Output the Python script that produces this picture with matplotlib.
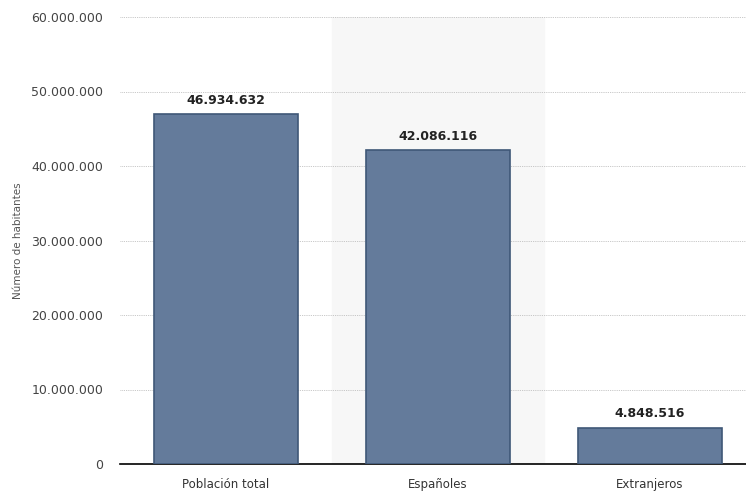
import matplotlib.pyplot as plt
from matplotlib.ticker import FuncFormatter

categorias = ["Población total", "Españoles", "Extranjeros"]
habitantes = [46934632, 42086116, 4848516]
yticks = [0, 10000000, 20000000, 30000000, 40000000, 50000000, 60000000]


def miles(v, pos=None):
    return f"{int(v):,}".replace(",", ".")


fig = plt.figure(figsize=(7.46, 4.92), dpi=100)
ax = fig.add_axes([120 / 746, 28 / 492, 626 / 746, 447 / 492])

x = range(len(categorias))
ax.axvspan(0.5, 1.5, color="#f7f7f7", zorder=0)
ax.bar(x, habitantes, width=0.68, color="#647b9b", edgecolor="#3f5877",
       linewidth=1.2, zorder=3)

for i, v in zip(x, habitantes):
    ax.text(i, v + 1000000, miles(v), ha="center", va="bottom",
            fontsize=9, fontweight="bold", color="#222222", zorder=4)

ax.set_xlim(-0.5, 2.453)
ax.set_ylim(0, 60000000)
ax.set_yticks(yticks)
ax.yaxis.set_major_formatter(FuncFormatter(miles))
ax.set_xticks(list(x))
ax.set_xticklabels(categorias)
ax.grid(axis="y", linestyle=(0, (1, 1.2)), color="#b5b5b5", linewidth=0.6, zorder=1)
ax.set_axisbelow(True)

for s in ["top", "right", "left"]:
    ax.spines[s].set_visible(False)
ax.spines["bottom"].set_color("#000000")
ax.spines["bottom"].set_linewidth(1.2)
ax.tick_params(axis="y", length=0, pad=12, labelsize=9, labelcolor="#444444")
ax.tick_params(axis="x", length=0, pad=10, labelsize=8.5, labelcolor="#333333")

ax.set_ylabel("Número de habitantes", fontsize=7.5, color="#555555", labelpad=6)

fig.savefig("out.png", dpi=100)
